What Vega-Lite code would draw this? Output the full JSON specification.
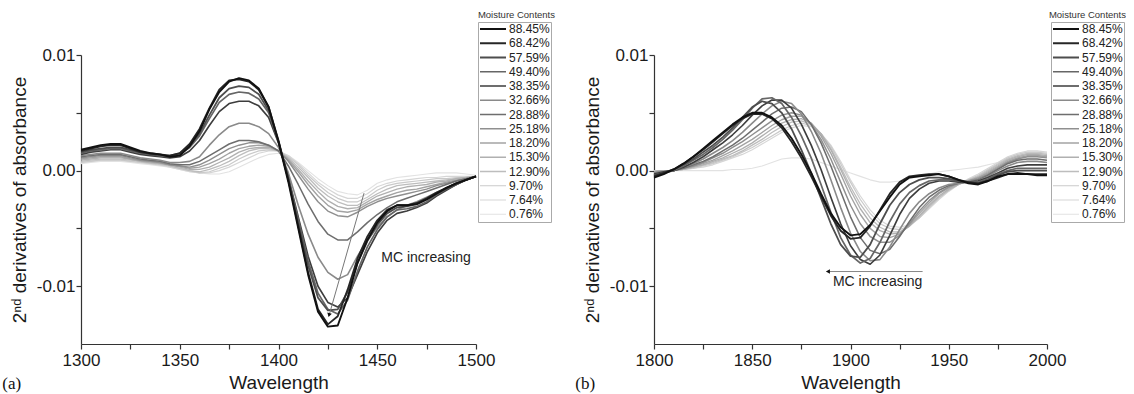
{
"$schema": "https://vega.github.io/schema/vega-lite/v6.json",
"background": "white",
"padding": {"left": 2, "top": 9, "right": 0, "bottom": 0},
"spacing": 20,
"config": {
  "font": "Liberation Sans",
  "view": {"stroke": null},
  "axis": {"grid": false, "domainColor": "#333333", "tickColor": "#333333", "domainWidth": 1.2, "tickWidth": 1.2, "tickSize": 5, "labelFont": "Liberation Sans", "labelFontSize": 17, "labelColor": "#1a1a1a", "titleFont": "Liberation Sans", "titleFontSize": 19, "titleFontWeight": "normal", "titleColor": "#1a1a1a", "labelFlush": false, "labelOverlap": false},
  "axisX": {"labelPadding": 3.5, "titlePadding": 5},
  "axisY": {"labelPadding": 1, "titlePadding": 7},
  "legend": {"orient": "none", "legendX": 397, "legendY": -33, "title": null, "labelFontSize": 12, "labelColor": "#222222", "symbolType": "stroke", "symbolSize": 676, "clipHeight": 12, "labelOffset": 2, "rowPadding": 2.25, "padding": 1, "strokeColor": "#aaaaaa"},
  "title": {"fontWeight": "normal", "color": "#222222"},
  "concat": {"spacing": 0}
},
"datasets": {
"a": [
{"wl":1300,"88_45%":0.0018,"68_42%":0.0017,"57_59%":0.0016,"49_40%":0.0015,"38_35%":0.0014,"32_66%":0.0013,"28_88%":0.0012,"25_18%":0.0011,"18_20%":0.0010,"15_30%":0.0009,"12_90%":0.0008,"9_70%":0.0007,"7_64%":0.0007,"0_76%":0.0006},
{"wl":1305,"88_45%":0.0020,"68_42%":0.0019,"57_59%":0.0018,"49_40%":0.0017,"38_35%":0.0016,"32_66%":0.0014,"28_88%":0.0013,"25_18%":0.0012,"18_20%":0.0011,"15_30%":0.0010,"12_90%":0.0009,"9_70%":0.0008,"7_64%":0.0008,"0_76%":0.0007},
{"wl":1310,"88_45%":0.0022,"68_42%":0.0021,"57_59%":0.0019,"49_40%":0.0018,"38_35%":0.0017,"32_66%":0.0015,"28_88%":0.0014,"25_18%":0.0013,"18_20%":0.0012,"15_30%":0.0011,"12_90%":0.0010,"9_70%":0.0009,"7_64%":0.0009,"0_76%":0.0008},
{"wl":1315,"88_45%":0.0023,"68_42%":0.0022,"57_59%":0.0020,"49_40%":0.0019,"38_35%":0.0018,"32_66%":0.0015,"28_88%":0.0014,"25_18%":0.0013,"18_20%":0.0012,"15_30%":0.0011,"12_90%":0.0010,"9_70%":0.0009,"7_64%":0.0009,"0_76%":0.0008},
{"wl":1320,"88_45%":0.0023,"68_42%":0.0022,"57_59%":0.0020,"49_40%":0.0019,"38_35%":0.0018,"32_66%":0.0015,"28_88%":0.0014,"25_18%":0.0013,"18_20%":0.0012,"15_30%":0.0011,"12_90%":0.0010,"9_70%":0.0009,"7_64%":0.0009,"0_76%":0.0008},
{"wl":1325,"88_45%":0.0020,"68_42%":0.0019,"57_59%":0.0018,"49_40%":0.0017,"38_35%":0.0016,"32_66%":0.0013,"28_88%":0.0012,"25_18%":0.0011,"18_20%":0.0010,"15_30%":0.0010,"12_90%":0.0009,"9_70%":0.0008,"7_64%":0.0008,"0_76%":0.0007},
{"wl":1330,"88_45%":0.0017,"68_42%":0.0016,"57_59%":0.0016,"49_40%":0.0015,"38_35%":0.0014,"32_66%":0.0011,"28_88%":0.0010,"25_18%":0.0009,"18_20%":0.0009,"15_30%":0.0008,"12_90%":0.0008,"9_70%":0.0007,"7_64%":0.0007,"0_76%":0.0006},
{"wl":1335,"88_45%":0.0015,"68_42%":0.0015,"57_59%":0.0014,"49_40%":0.0014,"38_35%":0.0013,"32_66%":0.0010,"28_88%":0.0009,"25_18%":0.0008,"18_20%":0.0008,"15_30%":0.0007,"12_90%":0.0007,"9_70%":0.0006,"7_64%":0.0006,"0_76%":0.0005},
{"wl":1340,"88_45%":0.0014,"68_42%":0.0014,"57_59%":0.0013,"49_40%":0.0013,"38_35%":0.0012,"32_66%":0.0009,"28_88%":0.0008,"25_18%":0.0007,"18_20%":0.0007,"15_30%":0.0006,"12_90%":0.0006,"9_70%":0.0005,"7_64%":0.0005,"0_76%":0.0004},
{"wl":1345,"88_45%":0.0012,"68_42%":0.0013,"57_59%":0.0013,"49_40%":0.0012,"38_35%":0.0011,"32_66%":0.0007,"28_88%":0.0006,"25_18%":0.0005,"18_20%":0.0005,"15_30%":0.0005,"12_90%":0.0004,"9_70%":0.0004,"7_64%":0.0003,"0_76%":0.0003},
{"wl":1350,"88_45%":0.0013,"68_42%":0.0015,"57_59%":0.0015,"49_40%":0.0014,"38_35%":0.0012,"32_66%":0.0007,"28_88%":0.0005,"25_18%":0.0004,"18_20%":0.0004,"15_30%":0.0003,"12_90%":0.0002,"9_70%":0.0002,"7_64%":0.0001,"0_76%":0.0001},
{"wl":1355,"88_45%":0.0021,"68_42%":0.0023,"57_59%":0.0021,"49_40%":0.0020,"38_35%":0.0017,"32_66%":0.0008,"28_88%":0.0005,"25_18%":0.0003,"18_20%":0.0002,"15_30%":0.0001,"12_90%":0.0000,"9_70%":0.0000,"7_64%":-0.0001,"0_76%":-0.0001},
{"wl":1360,"88_45%":0.0034,"68_42%":0.0036,"57_59%":0.0032,"49_40%":0.0030,"38_35%":0.0026,"32_66%":0.0012,"28_88%":0.0008,"25_18%":0.0005,"18_20%":0.0003,"15_30%":0.0001,"12_90%":-0.0001,"9_70%":-0.0002,"7_64%":-0.0002,"0_76%":-0.0002},
{"wl":1365,"88_45%":0.0053,"68_42%":0.0054,"57_59%":0.0048,"49_40%":0.0045,"38_35%":0.0039,"32_66%":0.0022,"28_88%":0.0013,"25_18%":0.0009,"18_20%":0.0006,"15_30%":0.0003,"12_90%":0.0001,"9_70%":-0.0001,"7_64%":-0.0002,"0_76%":-0.0003},
{"wl":1370,"88_45%":0.0068,"68_42%":0.0070,"57_59%":0.0063,"49_40%":0.0059,"38_35%":0.0051,"32_66%":0.0031,"28_88%":0.0018,"25_18%":0.0014,"18_20%":0.0010,"15_30%":0.0007,"12_90%":0.0004,"9_70%":0.0002,"7_64%":0.0000,"0_76%":-0.0003},
{"wl":1375,"88_45%":0.0077,"68_42%":0.0078,"57_59%":0.0071,"49_40%":0.0066,"38_35%":0.0058,"32_66%":0.0038,"28_88%":0.0023,"25_18%":0.0019,"18_20%":0.0015,"15_30%":0.0011,"12_90%":0.0008,"9_70%":0.0005,"7_64%":0.0003,"0_76%":-0.0001},
{"wl":1380,"88_45%":0.0080,"68_42%":0.0079,"57_59%":0.0073,"49_40%":0.0068,"38_35%":0.0060,"32_66%":0.0041,"28_88%":0.0026,"25_18%":0.0022,"18_20%":0.0019,"15_30%":0.0016,"12_90%":0.0013,"9_70%":0.0010,"7_64%":0.0007,"0_76%":0.0003},
{"wl":1385,"88_45%":0.0078,"68_42%":0.0077,"57_59%":0.0072,"49_40%":0.0067,"38_35%":0.0060,"32_66%":0.0041,"28_88%":0.0026,"25_18%":0.0024,"18_20%":0.0021,"15_30%":0.0019,"12_90%":0.0017,"9_70%":0.0014,"7_64%":0.0011,"0_76%":0.0007},
{"wl":1390,"88_45%":0.0071,"68_42%":0.0070,"57_59%":0.0066,"49_40%":0.0062,"38_35%":0.0056,"32_66%":0.0038,"28_88%":0.0025,"25_18%":0.0024,"18_20%":0.0022,"15_30%":0.0020,"12_90%":0.0019,"9_70%":0.0017,"7_64%":0.0015,"0_76%":0.0011},
{"wl":1395,"88_45%":0.0055,"68_42%":0.0055,"57_59%":0.0052,"49_40%":0.0050,"38_35%":0.0046,"32_66%":0.0032,"28_88%":0.0022,"25_18%":0.0022,"18_20%":0.0021,"15_30%":0.0020,"12_90%":0.0019,"9_70%":0.0018,"7_64%":0.0017,"0_76%":0.0014},
{"wl":1400,"88_45%":0.0025,"68_42%":0.0026,"57_59%":0.0025,"49_40%":0.0025,"38_35%":0.0024,"32_66%":0.0020,"28_88%":0.0017,"25_18%":0.0017,"18_20%":0.0017,"15_30%":0.0017,"12_90%":0.0017,"9_70%":0.0017,"7_64%":0.0017,"0_76%":0.0015},
{"wl":1405,"88_45%":-0.0010,"68_42%":-0.0008,"57_59%":-0.0008,"49_40%":-0.0007,"38_35%":-0.0006,"32_66%":-0.0002,"28_88%":0.0004,"25_18%":0.0008,"18_20%":0.0009,"15_30%":0.0010,"12_90%":0.0011,"9_70%":0.0012,"7_64%":0.0013,"0_76%":0.0013},
{"wl":1410,"88_45%":-0.0050,"68_42%":-0.0048,"57_59%":-0.0045,"49_40%":-0.0042,"38_35%":-0.0040,"32_66%":-0.0030,"28_88%":-0.0012,"25_18%":-0.0004,"18_20%":-0.0001,"15_30%":0.0001,"12_90%":0.0003,"9_70%":0.0005,"7_64%":0.0006,"0_76%":0.0007},
{"wl":1415,"88_45%":-0.0090,"68_42%":-0.0088,"57_59%":-0.0082,"49_40%":-0.0078,"38_35%":-0.0074,"32_66%":-0.0055,"28_88%":-0.0029,"25_18%":-0.0016,"18_20%":-0.0012,"15_30%":-0.0009,"12_90%":-0.0006,"9_70%":-0.0004,"7_64%":-0.0002,"0_76%":0.0000},
{"wl":1420,"88_45%":-0.0122,"68_42%":-0.0120,"57_59%":-0.0110,"49_40%":-0.0106,"38_35%":-0.0100,"32_66%":-0.0075,"28_88%":-0.0044,"25_18%":-0.0027,"18_20%":-0.0022,"15_30%":-0.0018,"12_90%":-0.0015,"9_70%":-0.0012,"7_64%":-0.0010,"0_76%":-0.0007},
{"wl":1425,"88_45%":-0.0135,"68_42%":-0.0133,"57_59%":-0.0121,"49_40%":-0.0120,"38_35%":-0.0114,"32_66%":-0.0088,"28_88%":-0.0055,"25_18%":-0.0035,"18_20%":-0.0030,"15_30%":-0.0026,"12_90%":-0.0022,"9_70%":-0.0019,"7_64%":-0.0016,"0_76%":-0.0013},
{"wl":1430,"88_45%":-0.0134,"68_42%":-0.0126,"57_59%":-0.0120,"49_40%":-0.0124,"38_35%":-0.0118,"32_66%":-0.0094,"28_88%":-0.0060,"25_18%":-0.0039,"18_20%":-0.0035,"15_30%":-0.0031,"12_90%":-0.0027,"9_70%":-0.0024,"7_64%":-0.0021,"0_76%":-0.0018},
{"wl":1435,"88_45%":-0.0110,"68_42%":-0.0103,"57_59%":-0.0105,"49_40%":-0.0112,"38_35%":-0.0110,"32_66%":-0.0090,"28_88%":-0.0060,"25_18%":-0.0040,"18_20%":-0.0036,"15_30%":-0.0033,"12_90%":-0.0030,"9_70%":-0.0027,"7_64%":-0.0024,"0_76%":-0.0020},
{"wl":1440,"88_45%":-0.0080,"68_42%":-0.0076,"57_59%":-0.0080,"49_40%":-0.0087,"38_35%":-0.0090,"32_66%":-0.0074,"28_88%":-0.0053,"25_18%":-0.0036,"18_20%":-0.0034,"15_30%":-0.0032,"12_90%":-0.0030,"9_70%":-0.0027,"7_64%":-0.0024,"0_76%":-0.0021},
{"wl":1445,"88_45%":-0.0060,"68_42%":-0.0057,"57_59%":-0.0061,"49_40%":-0.0066,"38_35%":-0.0070,"32_66%":-0.0060,"28_88%":-0.0045,"25_18%":-0.0031,"18_20%":-0.0029,"15_30%":-0.0027,"12_90%":-0.0025,"9_70%":-0.0023,"7_64%":-0.0020,"0_76%":-0.0017},
{"wl":1450,"88_45%":-0.0045,"68_42%":-0.0043,"57_59%":-0.0047,"49_40%":-0.0051,"38_35%":-0.0054,"32_66%":-0.0049,"28_88%":-0.0038,"25_18%":-0.0027,"18_20%":-0.0025,"15_30%":-0.0022,"12_90%":-0.0020,"9_70%":-0.0017,"7_64%":-0.0014,"0_76%":-0.0011},
{"wl":1455,"88_45%":-0.0035,"68_42%":-0.0034,"57_59%":-0.0037,"49_40%":-0.0040,"38_35%":-0.0043,"32_66%":-0.0040,"28_88%":-0.0032,"25_18%":-0.0024,"18_20%":-0.0022,"15_30%":-0.0019,"12_90%":-0.0016,"9_70%":-0.0013,"7_64%":-0.0011,"0_76%":-0.0008},
{"wl":1460,"88_45%":-0.0030,"68_42%":-0.0030,"57_59%":-0.0032,"49_40%":-0.0034,"38_35%":-0.0037,"32_66%":-0.0034,"28_88%":-0.0027,"25_18%":-0.0022,"18_20%":-0.0019,"15_30%":-0.0016,"12_90%":-0.0013,"9_70%":-0.0011,"7_64%":-0.0009,"0_76%":-0.0006},
{"wl":1465,"88_45%":-0.0030,"68_42%":-0.0030,"57_59%":-0.0031,"49_40%":-0.0033,"38_35%":-0.0035,"32_66%":-0.0030,"28_88%":-0.0024,"25_18%":-0.0020,"18_20%":-0.0017,"15_30%":-0.0014,"12_90%":-0.0012,"9_70%":-0.0010,"7_64%":-0.0008,"0_76%":-0.0005},
{"wl":1470,"88_45%":-0.0029,"68_42%":-0.0028,"57_59%":-0.0029,"49_40%":-0.0031,"38_35%":-0.0032,"32_66%":-0.0027,"28_88%":-0.0021,"25_18%":-0.0018,"18_20%":-0.0016,"15_30%":-0.0013,"12_90%":-0.0011,"9_70%":-0.0009,"7_64%":-0.0007,"0_76%":-0.0004},
{"wl":1475,"88_45%":-0.0025,"68_42%":-0.0024,"57_59%":-0.0025,"49_40%":-0.0027,"38_35%":-0.0028,"32_66%":-0.0023,"28_88%":-0.0018,"25_18%":-0.0016,"18_20%":-0.0014,"15_30%":-0.0012,"12_90%":-0.0010,"9_70%":-0.0008,"7_64%":-0.0006,"0_76%":-0.0003},
{"wl":1480,"88_45%":-0.0020,"68_42%":-0.0019,"57_59%":-0.0020,"49_40%":-0.0021,"38_35%":-0.0022,"32_66%":-0.0019,"28_88%":-0.0015,"25_18%":-0.0013,"18_20%":-0.0012,"15_30%":-0.0010,"12_90%":-0.0009,"9_70%":-0.0007,"7_64%":-0.0006,"0_76%":-0.0002},
{"wl":1485,"88_45%":-0.0015,"68_42%":-0.0015,"57_59%":-0.0016,"49_40%":-0.0016,"38_35%":-0.0017,"32_66%":-0.0015,"28_88%":-0.0012,"25_18%":-0.0011,"18_20%":-0.0010,"15_30%":-0.0009,"12_90%":-0.0008,"9_70%":-0.0007,"7_64%":-0.0005,"0_76%":-0.0002},
{"wl":1490,"88_45%":-0.0011,"68_42%":-0.0011,"57_59%":-0.0012,"49_40%":-0.0012,"38_35%":-0.0012,"32_66%":-0.0011,"28_88%":-0.0009,"25_18%":-0.0009,"18_20%":-0.0008,"15_30%":-0.0007,"12_90%":-0.0007,"9_70%":-0.0006,"7_64%":-0.0005,"0_76%":-0.0002},
{"wl":1495,"88_45%":-0.0008,"68_42%":-0.0008,"57_59%":-0.0008,"49_40%":-0.0008,"38_35%":-0.0008,"32_66%":-0.0008,"28_88%":-0.0007,"25_18%":-0.0007,"18_20%":-0.0007,"15_30%":-0.0006,"12_90%":-0.0006,"9_70%":-0.0006,"7_64%":-0.0005,"0_76%":-0.0003},
{"wl":1500,"88_45%":-0.0005,"68_42%":-0.0005,"57_59%":-0.0005,"49_40%":-0.0005,"38_35%":-0.0005,"32_66%":-0.0005,"28_88%":-0.0005,"25_18%":-0.0005,"18_20%":-0.0005,"15_30%":-0.0005,"12_90%":-0.0005,"9_70%":-0.0005,"7_64%":-0.0005,"0_76%":-0.0004}
],
"b": [
{"wl":1800,"88_45%":-0.0006,"68_42%":-0.0005,"57_59%":-0.0004,"49_40%":-0.0004,"38_35%":-0.0003,"32_66%":-0.0002,"28_88%":-0.0002,"25_18%":-0.0002,"18_20%":-0.0001,"15_30%":-0.0001,"12_90%":-0.0001,"9_70%":0.0000,"7_64%":0.0000,"0_76%":-0.0001},
{"wl":1805,"88_45%":-0.0003,"68_42%":-0.0002,"57_59%":-0.0002,"49_40%":-0.0002,"38_35%":-0.0001,"32_66%":-0.0001,"28_88%":-0.0001,"25_18%":-0.0001,"18_20%":0.0000,"15_30%":0.0000,"12_90%":0.0000,"9_70%":0.0000,"7_64%":0.0000,"0_76%":0.0000},
{"wl":1810,"88_45%":0.0001,"68_42%":0.0001,"57_59%":0.0001,"49_40%":0.0000,"38_35%":0.0000,"32_66%":0.0000,"28_88%":0.0000,"25_18%":0.0000,"18_20%":0.0000,"15_30%":0.0000,"12_90%":0.0000,"9_70%":0.0000,"7_64%":0.0000,"0_76%":0.0000},
{"wl":1815,"88_45%":0.0006,"68_42%":0.0006,"57_59%":0.0005,"49_40%":0.0004,"38_35%":0.0003,"32_66%":0.0003,"28_88%":0.0002,"25_18%":0.0002,"18_20%":0.0002,"15_30%":0.0001,"12_90%":0.0001,"9_70%":0.0001,"7_64%":0.0001,"0_76%":0.0000},
{"wl":1820,"88_45%":0.0012,"68_42%":0.0012,"57_59%":0.0010,"49_40%":0.0009,"38_35%":0.0007,"32_66%":0.0006,"28_88%":0.0005,"25_18%":0.0004,"18_20%":0.0004,"15_30%":0.0003,"12_90%":0.0003,"9_70%":0.0002,"7_64%":0.0002,"0_76%":0.0000},
{"wl":1825,"88_45%":0.0019,"68_42%":0.0018,"57_59%":0.0016,"49_40%":0.0014,"38_35%":0.0012,"32_66%":0.0010,"28_88%":0.0008,"25_18%":0.0007,"18_20%":0.0006,"15_30%":0.0005,"12_90%":0.0005,"9_70%":0.0004,"7_64%":0.0003,"0_76%":0.0000},
{"wl":1830,"88_45%":0.0026,"68_42%":0.0025,"57_59%":0.0022,"49_40%":0.0020,"38_35%":0.0018,"32_66%":0.0015,"28_88%":0.0012,"25_18%":0.0011,"18_20%":0.0009,"15_30%":0.0008,"12_90%":0.0007,"9_70%":0.0006,"7_64%":0.0005,"0_76%":0.0000},
{"wl":1835,"88_45%":0.0033,"68_42%":0.0032,"57_59%":0.0029,"49_40%":0.0027,"38_35%":0.0024,"32_66%":0.0020,"28_88%":0.0017,"25_18%":0.0015,"18_20%":0.0013,"15_30%":0.0011,"12_90%":0.0010,"9_70%":0.0009,"7_64%":0.0008,"0_76%":0.0000},
{"wl":1840,"88_45%":0.0040,"68_42%":0.0039,"57_59%":0.0037,"49_40%":0.0035,"38_35%":0.0031,"32_66%":0.0026,"28_88%":0.0022,"25_18%":0.0020,"18_20%":0.0017,"15_30%":0.0015,"12_90%":0.0013,"9_70%":0.0012,"7_64%":0.0011,"0_76%":0.0001},
{"wl":1845,"88_45%":0.0046,"68_42%":0.0045,"57_59%":0.0046,"49_40%":0.0044,"38_35%":0.0039,"32_66%":0.0033,"28_88%":0.0028,"25_18%":0.0025,"18_20%":0.0022,"15_30%":0.0019,"12_90%":0.0017,"9_70%":0.0016,"7_64%":0.0014,"0_76%":0.0001},
{"wl":1850,"88_45%":0.0050,"68_42%":0.0049,"57_59%":0.0055,"49_40%":0.0054,"38_35%":0.0048,"32_66%":0.0041,"28_88%":0.0035,"25_18%":0.0031,"18_20%":0.0027,"15_30%":0.0024,"12_90%":0.0022,"9_70%":0.0020,"7_64%":0.0018,"0_76%":0.0002},
{"wl":1855,"88_45%":0.0050,"68_42%":0.0049,"57_59%":0.0060,"49_40%":0.0062,"38_35%":0.0056,"32_66%":0.0049,"28_88%":0.0042,"25_18%":0.0037,"18_20%":0.0033,"15_30%":0.0030,"12_90%":0.0027,"9_70%":0.0025,"7_64%":0.0023,"0_76%":0.0004},
{"wl":1860,"88_45%":0.0046,"68_42%":0.0045,"57_59%":0.0058,"49_40%":0.0063,"38_35%":0.0061,"32_66%":0.0056,"28_88%":0.0049,"25_18%":0.0043,"18_20%":0.0039,"15_30%":0.0036,"12_90%":0.0033,"9_70%":0.0030,"7_64%":0.0028,"0_76%":0.0007},
{"wl":1865,"88_45%":0.0039,"68_42%":0.0037,"57_59%":0.0050,"49_40%":0.0058,"38_35%":0.0061,"32_66%":0.0060,"28_88%":0.0054,"25_18%":0.0048,"18_20%":0.0044,"15_30%":0.0041,"12_90%":0.0038,"9_70%":0.0035,"7_64%":0.0033,"0_76%":0.0010},
{"wl":1870,"88_45%":0.0028,"68_42%":0.0025,"57_59%":0.0036,"49_40%":0.0046,"38_35%":0.0054,"32_66%":0.0058,"28_88%":0.0055,"25_18%":0.0050,"18_20%":0.0047,"15_30%":0.0044,"12_90%":0.0042,"9_70%":0.0039,"7_64%":0.0037,"0_76%":0.0011},
{"wl":1875,"88_45%":0.0014,"68_42%":0.0011,"57_59%":0.0018,"49_40%":0.0030,"38_35%":0.0040,"32_66%":0.0049,"28_88%":0.0051,"25_18%":0.0048,"18_20%":0.0047,"15_30%":0.0045,"12_90%":0.0043,"9_70%":0.0041,"7_64%":0.0039,"0_76%":0.0011},
{"wl":1880,"88_45%":-0.0002,"68_42%":-0.0005,"57_59%":-0.0002,"49_40%":0.0011,"38_35%":0.0022,"32_66%":0.0034,"28_88%":0.0040,"25_18%":0.0040,"18_20%":0.0041,"15_30%":0.0041,"12_90%":0.0040,"9_70%":0.0039,"7_64%":0.0038,"0_76%":0.0010},
{"wl":1885,"88_45%":-0.0020,"68_42%":-0.0022,"57_59%":-0.0024,"49_40%":-0.0012,"38_35%":0.0001,"32_66%":0.0015,"28_88%":0.0024,"25_18%":0.0027,"18_20%":0.0030,"15_30%":0.0032,"12_90%":0.0032,"9_70%":0.0032,"7_64%":0.0032,"0_76%":0.0007},
{"wl":1890,"88_45%":-0.0037,"68_42%":-0.0039,"57_59%":-0.0046,"49_40%":-0.0036,"38_35%":-0.0023,"32_66%":-0.0008,"28_88%":0.0004,"25_18%":0.0010,"18_20%":0.0015,"15_30%":0.0018,"12_90%":0.0019,"9_70%":0.0021,"7_64%":0.0022,"0_76%":0.0004},
{"wl":1895,"88_45%":-0.0049,"68_42%":-0.0052,"57_59%":-0.0064,"49_40%":-0.0058,"38_35%":-0.0046,"32_66%":-0.0032,"28_88%":-0.0018,"25_18%":-0.0010,"18_20%":-0.0003,"15_30%":0.0001,"12_90%":0.0003,"9_70%":0.0006,"7_64%":0.0008,"0_76%":0.0001},
{"wl":1900,"88_45%":-0.0056,"68_42%":-0.0059,"57_59%":-0.0074,"49_40%":-0.0073,"38_35%":-0.0065,"32_66%":-0.0054,"28_88%":-0.0040,"25_18%":-0.0030,"18_20%":-0.0022,"15_30%":-0.0017,"12_90%":-0.0014,"9_70%":-0.0010,"7_64%":-0.0008,"0_76%":-0.0002},
{"wl":1905,"88_45%":-0.0055,"68_42%":-0.0058,"57_59%":-0.0075,"49_40%":-0.0080,"38_35%":-0.0077,"32_66%":-0.0070,"28_88%":-0.0058,"25_18%":-0.0046,"18_20%":-0.0038,"15_30%":-0.0033,"12_90%":-0.0029,"9_70%":-0.0025,"7_64%":-0.0022,"0_76%":-0.0005},
{"wl":1910,"88_45%":-0.0047,"68_42%":-0.0048,"57_59%":-0.0064,"49_40%":-0.0076,"38_35%":-0.0081,"32_66%":-0.0078,"28_88%":-0.0069,"25_18%":-0.0057,"18_20%":-0.0050,"15_30%":-0.0045,"12_90%":-0.0041,"9_70%":-0.0037,"7_64%":-0.0034,"0_76%":-0.0008},
{"wl":1915,"88_45%":-0.0035,"68_42%":-0.0034,"57_59%":-0.0046,"49_40%":-0.0062,"38_35%":-0.0073,"32_66%":-0.0077,"28_88%":-0.0072,"25_18%":-0.0062,"18_20%":-0.0057,"15_30%":-0.0052,"12_90%":-0.0049,"9_70%":-0.0046,"7_64%":-0.0043,"0_76%":-0.0010},
{"wl":1920,"88_45%":-0.0023,"68_42%":-0.0020,"57_59%":-0.0030,"49_40%":-0.0044,"38_35%":-0.0056,"32_66%":-0.0066,"28_88%":-0.0068,"25_18%":-0.0062,"18_20%":-0.0058,"15_30%":-0.0055,"12_90%":-0.0053,"9_70%":-0.0050,"7_64%":-0.0048,"0_76%":-0.0010},
{"wl":1925,"88_45%":-0.0012,"68_42%":-0.0010,"57_59%":-0.0019,"49_40%":-0.0029,"38_35%":-0.0038,"32_66%":-0.0051,"28_88%":-0.0057,"25_18%":-0.0056,"18_20%":-0.0055,"15_30%":-0.0054,"12_90%":-0.0053,"9_70%":-0.0051,"7_64%":-0.0049,"0_76%":-0.0009},
{"wl":1930,"88_45%":-0.0006,"68_42%":-0.0005,"57_59%":-0.0012,"49_40%":-0.0019,"38_35%":-0.0024,"32_66%":-0.0037,"28_88%":-0.0044,"25_18%":-0.0046,"18_20%":-0.0047,"15_30%":-0.0048,"12_90%":-0.0048,"9_70%":-0.0048,"7_64%":-0.0047,"0_76%":-0.0007},
{"wl":1935,"88_45%":-0.0005,"68_42%":-0.0004,"57_59%":-0.0008,"49_40%":-0.0013,"38_35%":-0.0016,"32_66%":-0.0027,"28_88%":-0.0032,"25_18%":-0.0035,"18_20%":-0.0037,"15_30%":-0.0039,"12_90%":-0.0040,"9_70%":-0.0041,"7_64%":-0.0041,"0_76%":-0.0005},
{"wl":1940,"88_45%":-0.0004,"68_42%":-0.0003,"57_59%":-0.0006,"49_40%":-0.0009,"38_35%":-0.0011,"32_66%":-0.0020,"28_88%":-0.0023,"25_18%":-0.0026,"18_20%":-0.0028,"15_30%":-0.0030,"12_90%":-0.0031,"9_70%":-0.0032,"7_64%":-0.0033,"0_76%":-0.0003},
{"wl":1945,"88_45%":-0.0003,"68_42%":-0.0003,"57_59%":-0.0006,"49_40%":-0.0008,"38_35%":-0.0009,"32_66%":-0.0015,"28_88%":-0.0017,"25_18%":-0.0019,"18_20%":-0.0020,"15_30%":-0.0022,"12_90%":-0.0023,"9_70%":-0.0024,"7_64%":-0.0025,"0_76%":-0.0001},
{"wl":1950,"88_45%":-0.0005,"68_42%":-0.0005,"57_59%":-0.0007,"49_40%":-0.0008,"38_35%":-0.0009,"32_66%":-0.0012,"28_88%":-0.0013,"25_18%":-0.0014,"18_20%":-0.0015,"15_30%":-0.0016,"12_90%":-0.0017,"9_70%":-0.0017,"7_64%":-0.0018,"0_76%":0.0000},
{"wl":1955,"88_45%":-0.0008,"68_42%":-0.0008,"57_59%":-0.0009,"49_40%":-0.0009,"38_35%":-0.0010,"32_66%":-0.0011,"28_88%":-0.0011,"25_18%":-0.0011,"18_20%":-0.0011,"15_30%":-0.0012,"12_90%":-0.0012,"9_70%":-0.0012,"7_64%":-0.0012,"0_76%":0.0001},
{"wl":1960,"88_45%":-0.0011,"68_42%":-0.0010,"57_59%":-0.0010,"49_40%":-0.0010,"38_35%":-0.0010,"32_66%":-0.0010,"28_88%":-0.0010,"25_18%":-0.0009,"18_20%":-0.0009,"15_30%":-0.0009,"12_90%":-0.0008,"9_70%":-0.0008,"7_64%":-0.0007,"0_76%":0.0002},
{"wl":1965,"88_45%":-0.0012,"68_42%":-0.0011,"57_59%":-0.0011,"49_40%":-0.0010,"38_35%":-0.0009,"32_66%":-0.0009,"28_88%":-0.0008,"25_18%":-0.0007,"18_20%":-0.0006,"15_30%":-0.0006,"12_90%":-0.0005,"9_70%":-0.0004,"7_64%":-0.0003,"0_76%":0.0003},
{"wl":1970,"88_45%":-0.0009,"68_42%":-0.0009,"57_59%":-0.0008,"49_40%":-0.0007,"38_35%":-0.0006,"32_66%":-0.0005,"28_88%":-0.0004,"25_18%":-0.0003,"18_20%":-0.0002,"15_30%":-0.0001,"12_90%":0.0000,"9_70%":0.0001,"7_64%":0.0002,"0_76%":0.0005},
{"wl":1975,"88_45%":-0.0005,"68_42%":-0.0006,"57_59%":-0.0004,"49_40%":-0.0003,"38_35%":-0.0002,"32_66%":0.0000,"28_88%":0.0001,"25_18%":0.0002,"18_20%":0.0003,"15_30%":0.0004,"12_90%":0.0005,"9_70%":0.0006,"7_64%":0.0007,"0_76%":0.0007},
{"wl":1980,"88_45%":-0.0003,"68_42%":-0.0003,"57_59%":-0.0001,"49_40%":0.0000,"38_35%":0.0002,"32_66%":0.0004,"28_88%":0.0006,"25_18%":0.0007,"18_20%":0.0008,"15_30%":0.0009,"12_90%":0.0010,"9_70%":0.0011,"7_64%":0.0012,"0_76%":0.0009},
{"wl":1985,"88_45%":-0.0003,"68_42%":-0.0002,"57_59%":0.0000,"49_40%":0.0002,"38_35%":0.0004,"32_66%":0.0007,"28_88%":0.0009,"25_18%":0.0010,"18_20%":0.0011,"15_30%":0.0012,"12_90%":0.0013,"9_70%":0.0014,"7_64%":0.0015,"0_76%":0.0011},
{"wl":1990,"88_45%":-0.0003,"68_42%":-0.0003,"57_59%":0.0000,"49_40%":0.0002,"38_35%":0.0005,"32_66%":0.0008,"28_88%":0.0010,"25_18%":0.0012,"18_20%":0.0013,"15_30%":0.0014,"12_90%":0.0015,"9_70%":0.0016,"7_64%":0.0017,"0_76%":0.0012},
{"wl":1995,"88_45%":-0.0004,"68_42%":-0.0003,"57_59%":0.0000,"49_40%":0.0002,"38_35%":0.0005,"32_66%":0.0008,"28_88%":0.0010,"25_18%":0.0012,"18_20%":0.0013,"15_30%":0.0014,"12_90%":0.0015,"9_70%":0.0016,"7_64%":0.0017,"0_76%":0.0012},
{"wl":2000,"88_45%":-0.0004,"68_42%":-0.0003,"57_59%":0.0000,"49_40%":0.0002,"38_35%":0.0005,"32_66%":0.0007,"28_88%":0.0009,"25_18%":0.0011,"18_20%":0.0012,"15_30%":0.0013,"12_90%":0.0014,"9_70%":0.0015,"7_64%":0.0016,"0_76%":0.0012}
]
},
"hconcat": [
{
  "title": {"text": "(a)", "orient": "bottom", "anchor": "start", "frame": "bounds", "font": "Liberation Serif", "fontSize": 17, "color": "#111111", "offset": 0, "dy": -17, "dx": -8},
  "vconcat": [
  {
    "title": {"text": "Moisture Contents", "anchor": "end", "frame": "group", "fontSize": 9.5, "offset": 27, "dx": 79, "color": "#333333"},
    "width": 395,
    "height": 289,
    "encoding": {
      "x": {"field": "wl", "type": "quantitative", "scale": {"domain": [1300, 1500], "nice": false, "zero": false},
            "axis": {"title": "Wavelength", "values": [1300,1325,1350,1375,1400,1425,1450,1475,1500], "labelExpr": "datum.value % 50 === 0 ? datum.label : ''", "format": "d"}},
      "y": {"field": "v", "type": "quantitative", "scale": {"domain": [-0.015, 0.01], "nice": false, "zero": false},
            "axis": {"title": "2ⁿᵈ derivatives of absorbance", "values": [-0.01,-0.005,0,0.005,0.01], "labelExpr": "datum.value == 0.01 ? '0.01' : datum.value == -0.01 ? '-0.01' : datum.value == 0 ? '0.00' : ''"}}
    },
    "layer": [
      {
        "data": {"name": "a"},
        "transform": [{"fold": ["0_76%","7_64%","9_70%","12_90%","15_30%","18_20%","25_18%","28_88%","32_66%","38_35%","49_40%","57_59%","68_42%","88_45%"], "as": ["mc", "v"]}],
        "mark": {"type": "line", "strokeJoin": "round"},
        "encoding": {
          "color": {"field": "mc", "type": "nominal",
            "scale": {"domain": ["88_45%","68_42%","57_59%","49_40%","38_35%","32_66%","28_88%","25_18%","18_20%","15_30%","12_90%","9_70%","7_64%","0_76%"],
                      "range": ["#111111","#262626","#4d4d4d","#666666","#3d3d3d","#8a8a8a","#6e6e6e","#8f8f8f","#a3a3a3","#b0b0b0","#bdbdbd","#cacaca","#d6d6d6","#e2e2e2"]},
            "legend": {"labelExpr": "replace(datum.label, '_', '.')"}},
          "strokeWidth": {"field": "mc", "type": "nominal",
            "scale": {"type": "point", "domain": ["88_45%","68_42%","57_59%","49_40%","38_35%","32_66%","28_88%","25_18%","18_20%","15_30%","12_90%","9_70%","7_64%","0_76%"], "range": [1.9, 1.1], "padding": 0},
            "legend": {"labelExpr": "replace(datum.label, '_', '.')"}}
        }
      },
      {
        "data": {"values": [{"wl": 1443.3, "v": -0.00195, "wl2": 1425.8, "v2": -0.0124}]},
        "mark": {"type": "rule", "color": "#777777", "strokeWidth": 1},
        "encoding": {"x2": {"field": "wl2"}, "y2": {"field": "v2"}}
      },
      {
        "data": {"values": [{"wl": 1425.6, "v": -0.0125}]},
        "mark": {"type": "point", "shape": "triangle-down", "filled": true, "color": "#111111", "size": 22, "angle": 15, "opacity": 1}
      },
      {
        "data": {"values": [{"wl": 1474.7, "v": -0.0076, "label": "MC increasing"}]},
        "mark": {"type": "text", "fontSize": 14, "color": "#222222", "align": "center", "baseline": "middle"},
        "encoding": {"text": {"field": "label"}}
      }
    ]
  }
  ]
},
{
  "title": {"text": "(b)", "orient": "bottom", "anchor": "start", "frame": "bounds", "font": "Liberation Serif", "fontSize": 17, "color": "#111111", "offset": 0, "dy": -17, "dx": -8},
  "vconcat": [
  {
    "title": {"text": "Moisture Contents", "anchor": "end", "frame": "group", "fontSize": 9.5, "offset": 27, "dx": 79, "color": "#333333"},
    "width": 393,
    "height": 289,
    "encoding": {
      "x": {"field": "wl", "type": "quantitative", "scale": {"domain": [1800, 2000], "nice": false, "zero": false},
            "axis": {"title": "Wavelength", "values": [1800,1825,1850,1875,1900,1925,1950,1975,2000], "labelExpr": "datum.value % 50 === 0 ? datum.label : ''", "format": "d"}},
      "y": {"field": "v", "type": "quantitative", "scale": {"domain": [-0.015, 0.01], "nice": false, "zero": false},
            "axis": {"title": "2ⁿᵈ derivatives of absorbance", "values": [-0.01,-0.005,0,0.005,0.01], "labelExpr": "datum.value == 0.01 ? '0.01' : datum.value == -0.01 ? '-0.01' : datum.value == 0 ? '0.00' : ''"}}
    },
    "layer": [
      {
        "data": {"name": "b"},
        "transform": [{"fold": ["0_76%","7_64%","9_70%","12_90%","15_30%","18_20%","25_18%","28_88%","32_66%","38_35%","49_40%","57_59%","68_42%","88_45%"], "as": ["mc", "v"]}],
        "mark": {"type": "line", "strokeJoin": "round"},
        "encoding": {
          "color": {"field": "mc", "type": "nominal",
            "scale": {"domain": ["88_45%","68_42%","57_59%","49_40%","38_35%","32_66%","28_88%","25_18%","18_20%","15_30%","12_90%","9_70%","7_64%","0_76%"],
                      "range": ["#111111","#262626","#4d4d4d","#666666","#3d3d3d","#8a8a8a","#6e6e6e","#8f8f8f","#a3a3a3","#b0b0b0","#bdbdbd","#cacaca","#d6d6d6","#e2e2e2"]},
            "legend": {"labelExpr": "replace(datum.label, '_', '.')"}},
          "strokeWidth": {"field": "mc", "type": "nominal",
            "scale": {"type": "point", "domain": ["88_45%","68_42%","57_59%","49_40%","38_35%","32_66%","28_88%","25_18%","18_20%","15_30%","12_90%","9_70%","7_64%","0_76%"], "range": [1.9, 1.1], "padding": 0},
            "legend": {"labelExpr": "replace(datum.label, '_', '.')"}}
        }
      },
      {
        "data": {"values": [{"wl": 1936.7, "v": -0.00873, "wl2": 1889.5, "v2": -0.00873}]},
        "mark": {"type": "rule", "color": "#888888", "strokeWidth": 1},
        "encoding": {"x2": {"field": "wl2"}, "y2": {"field": "v2"}}
      },
      {
        "data": {"values": [{"wl": 1888.5, "v": -0.00873}]},
        "mark": {"type": "point", "shape": "triangle-left", "filled": true, "color": "#111111", "size": 22, "opacity": 1}
      },
      {
        "data": {"values": [{"wl": 1913.8, "v": -0.0096, "label": "MC increasing"}]},
        "mark": {"type": "text", "fontSize": 14, "color": "#222222", "align": "center", "baseline": "middle"},
        "encoding": {"text": {"field": "label"}}
      }
    ]
  }
  ]
}
],
"resolve": {"scale": {"color": "independent", "strokeWidth": "independent"}, "legend": {"color": "independent", "strokeWidth": "independent"}}
}
